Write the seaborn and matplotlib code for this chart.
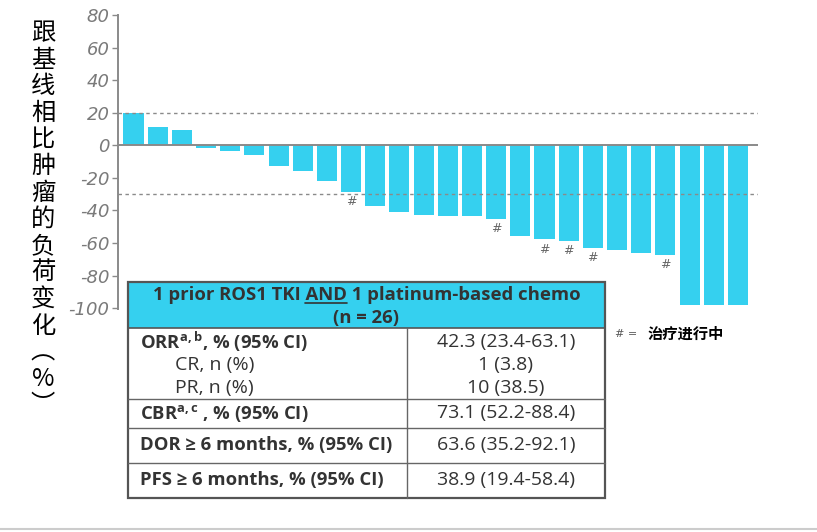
import matplotlib
matplotlib.use("Agg")
import matplotlib.pyplot as plt
import seaborn as sns
import numpy as np
import pandas as pd
from matplotlib.patches import Rectangle

# ---------------- data ----------------
patients = list(range(1, 27))
pct_change = [20, 11, 9.5, -1.5, -3.7, -6, -12.5, -15.7, -22, -28.5,
              -37.3, -40.8, -42.6, -43.2, -43.7, -45.3, -55.5, -57.7, -58.8, -63,
              -64.5, -66.3, -67.4, -98, -98, -98]
ongoing = [10, 16, 18, 19, 20, 23]          # patients with treatment ongoing (#)
ref_lines = [20, -30]
yticks = [80, 60, 40, 20, 0, -20, -40, -60, -80, -100]
ylabel_chars = list("跟基线相比肿瘤的负荷变化") + ["︵", "%", "︶"]

table_header = ["1 prior ROS1 TKI AND 1 platinum-based chemo", "(n = 26)"]
row_labels = [r"ORR$^{\mathregular{a,b}}$, % (95% CI)", "CR, n (%)", "PR, n (%)",
              r"CBR$^{\mathregular{a,c}}$ , % (95% CI)", "DOR ≥ 6 months, % (95% CI)",
              "PFS ≥ 6 months, % (95% CI)"]
row_values = ["42.3 (23.4-63.1)", "1 (3.8)", "10 (38.5)", "73.1 (52.2-88.4)",
              "63.6 (35.2-92.1)", "38.9 (19.4-58.4)"]
row_bold = [True, False, False, True, True, True]
row_indent = [False, True, True, False, False, False]
legend_sym = "# ="
legend_text = "治疗进行中"

BAR = "#35D0EF"
GRAY = "#8a8a8a"
TXT = "#333333"

sns.set_theme(style="white")
plt.rcParams['font.family'] = ['Open Sans', 'DejaVu Sans']
plt.rcParams['mathtext.fontset'] = 'custom'
plt.rcParams['mathtext.rm'] = 'Open Sans'

W, H = 817, 532
fig = plt.figure(figsize=(W / 100, H / 100), dpi=100)
fig.patch.set_facecolor("white")

# pixel overlay axes
ov = fig.add_axes([0, 0, 1, 1], zorder=0)
ov.set_xlim(0, W)
ov.set_ylim(H, 0)
ov.axis("off")

ax = fig.add_axes([118 / W, 1 - 309 / H, (758 - 118) / W, (309 - 15) / H], zorder=1)
ax.patch.set_alpha(0)

df = pd.DataFrame({"patient": patients, "change": pct_change})
sns.barplot(data=df, x="patient", y="change", color=BAR, saturation=1,
            width=0.83, ax=ax, edgecolor="none")
ax.set_xlim(-0.64, 25.83)
ax.set_ylim(-100.5, 80)
ax.axhline(0, color=GRAY, lw=1.4, zorder=3)
for r in ref_lines:
    ax.axhline(r, color=GRAY, lw=1.0, ls=(0, (2.5, 2.5)), zorder=3)

for p in ongoing:
    i = patients.index(p)
    ax.text(i, pct_change[i] - 6, "#", ha="center", va="center",
            fontsize=9, color="#666666", style="italic", family="DejaVu Sans")

ax.set_xticks([])
ax.set_xlabel("")
ax.set_ylabel("")
ax.set_yticks(yticks)
ax.set_yticklabels([str(t) for t in yticks])
for lbl in ax.get_yticklabels():
    lbl.set_fontsize(13)
    lbl.set_color("#7a7a7a")
    lbl.set_fontstyle("italic")
    lbl.set_family("DejaVu Sans")
ax.tick_params(axis="y", direction="out", length=4, width=1, color=GRAY, pad=2, left=True)
for s in ["top", "right", "bottom"]:
    ax.spines[s].set_visible(False)
ax.spines["left"].set_color(GRAY)
ax.spines["left"].set_linewidth(1.4)

# vertical stacked y label
for k, ch in enumerate(ylabel_chars):
    ov.text(43, 33 + k * 26.6, ch, ha="center", va="center", fontsize=17.5,
            color="black", family=["Noto Sans CJK SC", "DejaVu Sans"])

# ---------------- table ----------------
tx0, tx1, ty0, ty1 = 128, 605, 282, 497.5
xdiv = 407
hdr_bot = 328
row_lines = [399, 427.5, 463]
ov.add_patch(Rectangle((tx0, ty0), tx1 - tx0, hdr_bot - ty0, facecolor=BAR,
                       edgecolor="none", zorder=2))
ov.add_patch(Rectangle((tx0, ty0), tx1 - tx0, ty1 - ty0, facecolor="none",
                       edgecolor="#555555", lw=1.6, zorder=4))
ov.plot([tx0, tx1], [hdr_bot, hdr_bot], color="#555555", lw=1.2, zorder=4)
ov.plot([xdiv, xdiv], [hdr_bot, ty1], color="#666666", lw=1.0, zorder=4)
for yl in row_lines:
    ov.plot([tx0, tx1], [yl, yl], color="#666666", lw=1.0, zorder=4)

FS_B = 13.3
FS_R = 14
hx = (tx0 + tx1) / 2
ov.text(hx, 295, table_header[0], ha="center", va="center", fontsize=FS_B,
        fontweight="bold", color=TXT, zorder=5)
ov.text(hx, 318, table_header[1], ha="center", va="center", fontsize=FS_B,
        fontweight="bold", color=TXT, zorder=5)

# underline "AND"
fig.canvas.draw()
rend = fig.canvas.get_renderer()
def text_w(s):
    t = ov.text(0, 0, s, fontsize=FS_B, fontweight="bold")
    w = t.get_window_extent(rend).width
    t.remove()
    return w
full_w = text_w(table_header[0])
pre_w = text_w(table_header[0].split("AND")[0])
and_w = text_w("AND")
ux0 = hx - full_w / 2 + pre_w
ov.plot([ux0, ux0 + and_w], [303, 303], color=TXT, lw=1.2, zorder=5)

row_y = [342, 365, 388, 413, 445, 480]
for lab, val, b, ind, yy in zip(row_labels, row_values, row_bold, row_indent, row_y):
    ov.text(175 if ind else 140.5, yy, lab, ha="left", va="center",
            fontsize=FS_B if b else FS_R,
            fontweight="bold" if b else "normal", color=TXT, zorder=5)
    ov.text(506, yy, val, ha="center", va="center", fontsize=FS_R, color=TXT, zorder=5)

# legend
ov.text(626, 334, legend_sym, ha="center", va="center", fontsize=8, color="#555555",
        family="DejaVu Sans", style="italic")
ov.text(648, 334, legend_text, ha="left", va="center", fontsize=11, fontweight="bold",
        color="black", family=["Noto Sans CJK SC", "DejaVu Sans"])

# bottom frame line
ov.plot([0, W], [529, 529], color="#cccccc", lw=1.5)

fig.savefig("out.png", dpi=100, facecolor="white")
